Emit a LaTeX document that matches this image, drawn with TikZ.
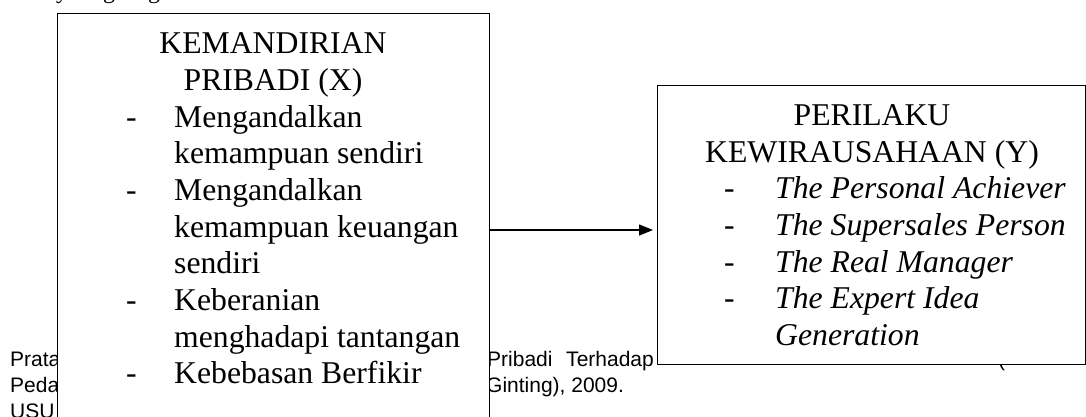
\documentclass[tikz,border=0pt]{standalone}
\usepackage{fontspec}
\setmainfont{Liberation Serif}
\newfontfamily\arialf{Liberation Sans}
\usetikzlibrary{arrows.meta}
\tikzset{
  box/.style={draw=black, line width=1.3pt, fill=white, inner sep=0pt, anchor=north west},
  bigtxt/.style={inner sep=0pt, font=\fontsize{31.7}{36.7}\selectfont},
  headtxt/.style={bigtxt, anchor=base},
  itemtxt/.style={bigtxt, anchor=base west},
  ittxt/.style={bigtxt, anchor=base west, font=\fontsize{31.7}{36.7}\selectfont\itshape},
  foot/.style={inner sep=0pt, anchor=base west, font=\arialf\fontsize{21}{26}\selectfont},
  footr/.style={foot, anchor=base east},
  topfrag/.style={inner sep=0pt, anchor=base west, font=\fontsize{24}{28}\selectfont},
  arr/.style={line width=1.3pt, -{Triangle[length=14pt, width=11pt]}}
}
\begin{document}
\begin{tikzpicture}[x=1pt, y=-1pt]
\useasboundingbox (0,0) rectangle (1086,416);
% fragments of the line above (cut off)
\node[topfrag] (t1) at (56,-2) {y};
\node[topfrag] (t2) at (103,-2) {g};
\node[topfrag] (t3) at (148,-2) {g};
% footer fragments behind boxes
\node[foot] (f1) at (10,366) {Prata};
\node[foot] (f2) at (10,392.7) {Peda};
\node[foot] (f3) at (10,418.7) {USU};
\node[foot] (f4) at (487,366) {Pribadi};
\node[footr] (f4b) at (654,366) {Terhadap};
\node[foot] (f5) at (486,392.7) {Ginting), 2009.};
\node[foot] (f6) at (998,366) {(};
% boxes
\node[box, minimum width=432pt, minimum height=430pt] (L) at (57,13) {};
\node[box, minimum width=428pt, minimum height=279pt] (R) at (657,85) {};
% left box text
\node[headtxt] (l1) at (273,53) {KEMANDIRIAN};
\node[headtxt] (l2) at (273,90) {PRIBADI (X)};
\node[itemtxt] (d1) at (126,127) {-};
\node[itemtxt] (i1) at (174,127) {Mengandalkan};
\node[itemtxt] (i2) at (174,163) {kemampuan sendiri};
\node[itemtxt] (d2) at (126,200) {-};
\node[itemtxt] (i3) at (174,200) {Mengandalkan};
\node[itemtxt] (i4) at (174,237) {kemampuan keuangan};
\node[itemtxt] (i5) at (174,273) {sendiri};
\node[itemtxt] (d3) at (126,310) {-};
\node[itemtxt] (i6) at (174,310) {Keberanian};
\node[itemtxt] (i7) at (174,347) {menghadapi tantangan};
\node[itemtxt] (d4) at (126,383) {-};
\node[itemtxt] (i8) at (174,383) {Kebebasan Berfikir};
% right box text
\node[headtxt] (r1) at (872,125) {PERILAKU};
\node[headtxt] (r2) at (872,162) {KEWIRAUSAHAAN (Y)};
\node[itemtxt] (e1) at (724,198) {-};
\node[ittxt] (j1) at (775,198) {The Personal Achiever};
\node[itemtxt] (e2) at (724,235) {-};
\node[ittxt] (j2) at (775,235) {The Supersales Person};
\node[itemtxt] (e3) at (724,272) {-};
\node[ittxt] (j3) at (775,272) {The Real Manager};
\node[itemtxt] (e4) at (724,308) {-};
\node[ittxt] (j4) at (775,308) {The Expert Idea};
\node[ittxt] (j5) at (775,345) {Generation};
% arrow
\coordinate (ay) at (0,230);
\draw[arr] (L.east |- ay) -- ([xshift=-4pt]R.west |- ay);
\end{tikzpicture}
\end{document}
